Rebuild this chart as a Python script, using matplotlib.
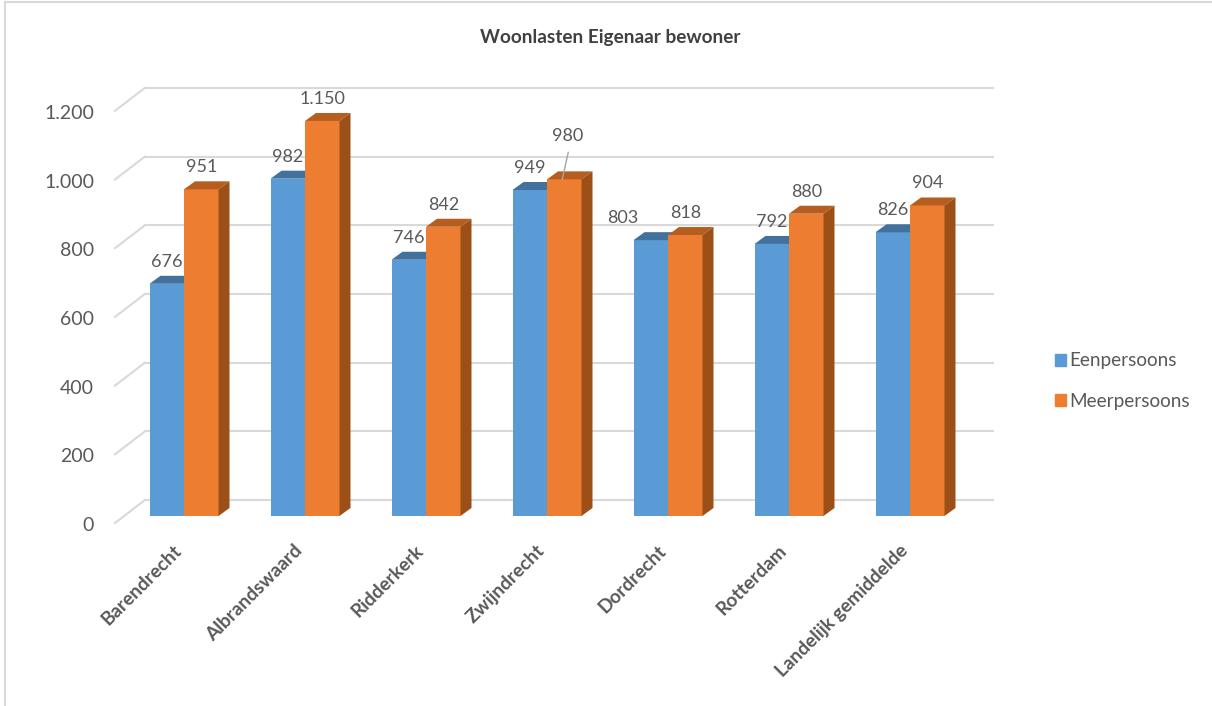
#!/usr/bin/env python3

import numpy as np
import matplotlib
matplotlib.use('Agg')
import matplotlib.pyplot as plt
from matplotlib.lines import Line2D
from matplotlib.patches import Patch, Polygon
from matplotlib.transforms import ScaledTranslation

plt.rcParams['font.family'] = ['Lato', 'DejaVu Sans']

# ------------------------------------------------------------------------------
# Data
# ------------------------------------------------------------------------------
gemeenten = ['Barendrecht', 'Albrandswaard', 'Ridderkerk', 'Zwijndrecht', 'Dordrecht', 'Rotterdam', 'Landelijk gemiddelde']
eenpersoons = [676, 982, 746, 949, 803, 792, 826]
meerpersoons = [951, 1150, 842, 980, 818, 880, 904]
yticks = [0, 200, 400, 600, 800, 1000, 1200]
ylabels = ['0', '200', '400', '600', '800', '1.000', '1.200']

# picture scale: one category is 121 px, 200 units are 68.7 px
px_x = 1/121
px_y = 200/68.7
bar_w = 34.5*px_x
depth_x = 11*px_x
depth_y = 8*px_y

grey = '#595959'
fig = plt.figure(figsize=(12.12, 7.06), dpi=100)
ax = fig.add_axes([115/1212, 1 - 516/706, 878/1212, 436/706])
ax.set_xlim(-69*px_x, 809*px_x)
ax.set_ylim(0, 436*px_y)
for s in ax.spines.values():
  s.set_visible(False)
ax.set_facecolor('none')

def shade_bar(x, v, front, top, side, z):
  ax.bar(x, v, bar_w, align='edge', color=front, zorder=z, clip_on=False)
  ax.add_patch(Polygon([(x, v), (x + bar_w, v), (x + bar_w + depth_x, v + depth_y), (x + depth_x, v + depth_y)],
                       closed=True, fc=top, ec='none', zorder=z, clip_on=False))
  ax.add_patch(Polygon([(x + bar_w, 0), (x + bar_w + depth_x, depth_y), (x + bar_w + depth_x, v + depth_y), (x + bar_w, v)],
                       closed=True, fc=side, ec='none', zorder=z, clip_on=False))

# back wall gridlines and the slanted part on the left side
wall_y = 16*px_y
for v in yticks:
  ax.plot([-39*px_x, 809*px_x], [v + wall_y]*2, color='#D9D9D9', lw=1.5, zorder=1, clip_on=False)
  ax.plot([-69*px_x, -39*px_x], [v - 7*px_y, v + wall_y], color='#D9D9D9', lw=1.5, zorder=1, clip_on=False)

for i in range(len(gemeenten)):
  shade_bar(i - bar_w, eenpersoons[i], '#5B9BD5', '#41719C', '#41719C', 2 + i*0.1)
  shade_bar(i, meerpersoons[i], '#ED7D31', '#B65E20', '#9C5018', 2.05 + i*0.1)

# data labels, two of them were moved by hand in the original
for i in range(len(gemeenten)):
  xa = i - bar_w/2
  xb = i + bar_w/2
  shift_a = -28*px_x if eenpersoons[i] == 803 else 0
  ax.text(xa + shift_a, eenpersoons[i] + 22*px_y, f'{eenpersoons[i]}', ha='center', va='center',
          fontsize=13, color=grey, zorder=5, clip_on=False)
  if meerpersoons[i] == 980:
    ax.text(xb + 3*px_x, 980 + 43*px_y, '980', ha='center', va='center', fontsize=13, color=grey, zorder=5)
    ax.plot([xb + 4*px_x, xb - 2*px_x], [980 + 27*px_y, 980], color='#A6A6A6', lw=1, zorder=5)
  else:
    txt = f'{meerpersoons[i]}'.replace('1150', '1.150')
    ax.text(xb, meerpersoons[i] + 22*px_y, txt, ha='center', va='center',
            fontsize=13, color=grey, zorder=5, clip_on=False)

# axes labels
ax.set_yticks(yticks)
ax.set_yticklabels(ylabels, fontsize=14, color=grey)
ax.tick_params(axis='y', length=0, pad=15)
down = ScaledTranslation(0, -8/100, fig.dpi_scale_trans)
for lbl in ax.get_yticklabels():
  lbl.set_transform(lbl.get_transform() + down)

ax.set_xticks(np.arange(len(gemeenten)))
ax.set_xticklabels(gemeenten, rotation=45, ha='right', rotation_mode='anchor',
                   fontsize=13.7, fontweight='bold', color=grey)
ax.tick_params(axis='x', length=0, pad=20)
left = ScaledTranslation(-11/100, 2/100, fig.dpi_scale_trans)
for lbl in ax.get_xticklabels():
  lbl.set_transform(lbl.get_transform() + left)

fig.text(610/1212, 1 - 37.5/706, 'Woonlasten Eigenaar bewoner', ha='center', va='center',
         fontsize=13.7, fontweight='bold', color='#404040')

handles = [Patch(color='#5B9BD5', label='Eenpersoons'), Patch(color='#ED7D31', label='Meerpersoons')]
fig.legend(handles=handles, loc='center left', bbox_to_anchor=(1038/1212, 1 - 381/706), frameon=False,
           fontsize=13.6, labelcolor=grey, handlelength=0.6, handleheight=0.6, handletextpad=0.16, labelspacing=1.25)

# the thin frame of the pasted chart
fig.add_artist(Line2D([5/1212, 5/1212], [0, 1 - 2/706], color='#D9D9D9', lw=1.5))
fig.add_artist(Line2D([5/1212, 1], [1 - 2/706, 1 - 2/706], color='#D9D9D9', lw=1.5))

fig.savefig('out.png', dpi=100)
